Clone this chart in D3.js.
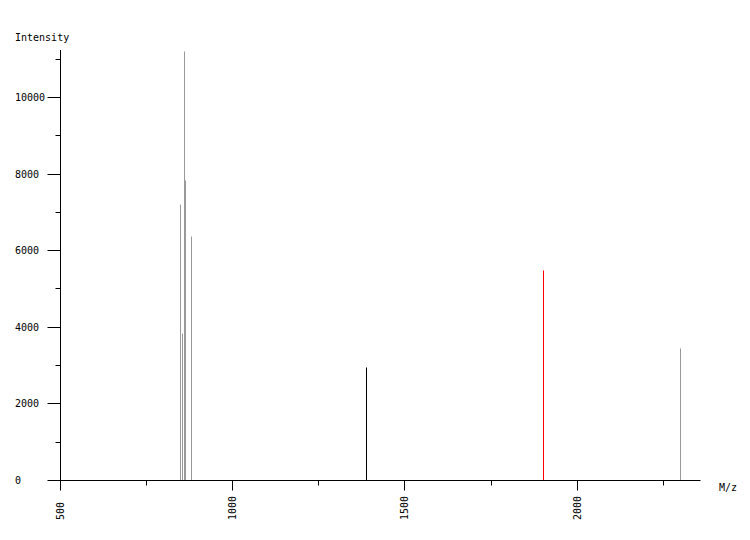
<!DOCTYPE html>
<html>
<head>
<meta charset="utf-8">
<script src="https://cdn.jsdelivr.net/npm/d3@7"></script>
<style>
  body { margin: 0; background: #fff; }
  svg { display: block; }
  text { font-family: "DejaVu Sans Mono", "Liberation Mono", monospace; font-size: 10px; fill: #000; }
</style>
</head>
<body>
<svg id="chart" width="750" height="540"></svg>
<script>
// ---- data ----
const peakMz = [848.2, 854.0, 859.8, 862.7, 880.1, 1388.0, 1901.6, 2299.2];
const peakIntensity = [7210, 3840, 11200, 7830, 6370, 2960, 5480, 3450];
const peakColor = ["#999999", "#999999", "#999999", "#999999", "#999999", "#000000", "#ff0000", "#999999"];
const xMajorTicks = [500, 1000, 1500, 2000];
const xMinorTicks = [750, 1250, 1750, 2250];
const yMajorTicks = [0, 2000, 4000, 6000, 8000, 10000];
const yMinorTicks = [1000, 3000, 5000, 7000, 9000, 11000];
const yTitle = "Intensity";
const xTitle = "M/z";

const svg = d3.select("#chart");
const x = d3.scaleLinear().domain([500, 2358]).range([60.5, 700.5]);
const y = d3.scaleLinear().domain([0, 11227]).range([480.5, 50.5]);
const px = v => Math.round(x(v) - 0.5) + 0.5;
const py = v => Math.round(y(v) - 0.5) + 0.5;

// peaks
svg.append("g").selectAll("line").data(peakMz).join("line")
  .attr("x1", (d) => px(d)).attr("x2", (d) => px(d))
  .attr("y1", py(0)).attr("y2", (d, i) => py(peakIntensity[i]))
  .attr("stroke", (d, i) => peakColor[i]).attr("stroke-width", 1);

// x axis
const gx = svg.append("g").attr("transform", `translate(0,${py(0)})`);
gx.call(d3.axisBottom(x).tickValues(xMajorTicks).tickSize(10).tickSizeOuter(0).tickFormat(""));
gx.append("g").call(d3.axisBottom(x).tickValues(xMinorTicks).tickSize(5).tickSizeOuter(0).tickFormat(""));
gx.selectAll(".domain").remove();
gx.selectAll("line").attr("stroke", "#000");
gx.selectAll(".tick").attr("transform", d => `translate(${px(d)},0)`);
gx.append("line").attr("x1", px(500) - 10).attr("x2", x(2358)).attr("y1", 0).attr("y2", 0).attr("stroke", "#000");

svg.append("g").selectAll("text").data(xMajorTicks).join("text")
  .attr("transform", d => `translate(${px(d)},520) rotate(-90)`)
  .attr("dy", "0.35em").attr("text-anchor", "start")
  .text(d => d);

// y axis
const gy = svg.append("g").attr("transform", `translate(${px(500)},0)`);
gy.call(d3.axisLeft(y).tickValues(yMajorTicks).tickSize(13).tickSizeOuter(0).tickFormat(""));
gy.append("g").call(d3.axisLeft(y).tickValues(yMinorTicks).tickSize(5).tickSizeOuter(0).tickFormat(""));
gy.selectAll(".domain").remove();
gy.selectAll("line").attr("stroke", "#000");
gy.selectAll(".tick").attr("transform", d => `translate(0,${py(d)})`);
gy.append("line").attr("x1", 0).attr("x2", 0).attr("y1", 50).attr("y2", py(0)).attr("stroke", "#000");

svg.append("g").selectAll("text").data(yMajorTicks).join("text")
  .attr("x", 15).attr("y", d => py(d)).attr("dy", "0.35em").attr("text-anchor", "start")
  .text(d => d);

svg.append("text").attr("x", 15).attr("y", 41).text(yTitle);
svg.append("text").attr("x", 719).attr("y", 491).text(xTitle);
</script>
</body>
</html>
